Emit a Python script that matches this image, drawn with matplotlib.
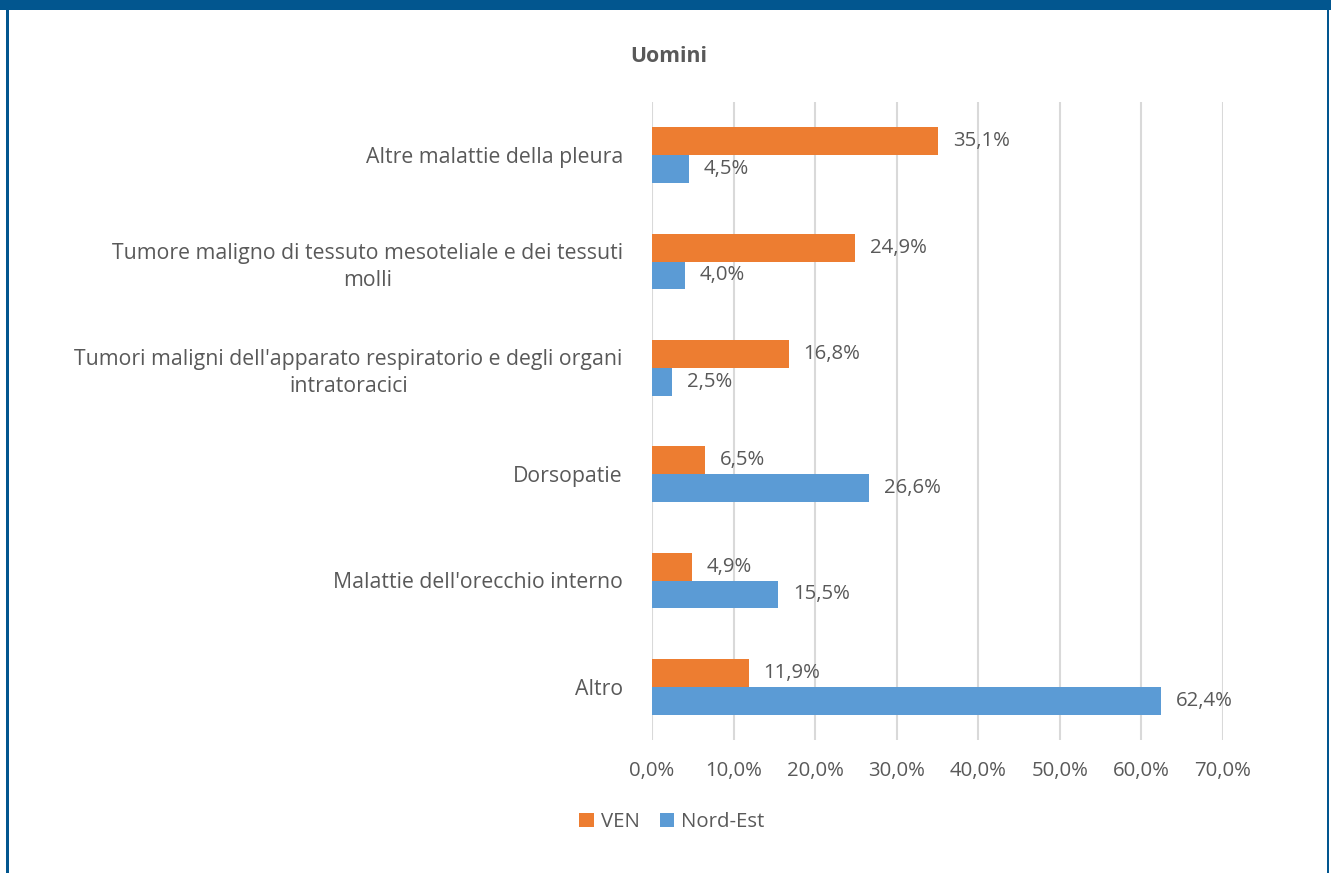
import matplotlib
matplotlib.use("Agg")
import matplotlib.pyplot as plt
from matplotlib.patches import Rectangle
from matplotlib.ticker import FuncFormatter

plt.rcParams['font.family'] = ['Open Sans', 'DejaVu Sans']

categories = [
    "Altre malattie della pleura",
    "Tumore maligno di tessuto mesoteliale e dei tessuti\nmolli",
    "Tumori maligni dell'apparato respiratorio e degli organi\nintratoracici",
    "Dorsopatie",
    "Malattie dell'orecchio interno",
    "Altro",
]
ven = [35.1, 24.9, 16.8, 6.5, 4.9, 11.9]
nord_est = [4.5, 4.0, 2.5, 26.6, 15.5, 62.4]
series_names = ["VEN", "Nord-Est"]
x_ticks = [0, 10, 20, 30, 40, 50, 60, 70]

ORANGE = "#ED7D31"
BLUE = "#5B9BD5"
TEXT = "#595959"
FRAME = "#02568F"
GRID = "#D9D9D9"

FS = 14.7        # ticks, values, legend
FS_CAT = 15.3    # category labels
FS_TITLE = 15.3

W, H = 1331, 873
fig = plt.figure(figsize=(W / 100, H / 100), dpi=100)

# frame: thick band at top, thin lines on the sides
fig.add_artist(Rectangle((0, 1 - 10 / H), 1, 10 / H, transform=fig.transFigure,
                         color=FRAME, lw=0))
fig.add_artist(Rectangle((6 / W, 0), 2.5 / W, 1, transform=fig.transFigure,
                         color=FRAME, lw=0))
fig.add_artist(Rectangle((1326.5 / W, 0), 2.5 / W, 1, transform=fig.transFigure,
                         color=FRAME, lw=0))

ax = fig.add_axes([652 / W, 1 - 740 / H, (1223 - 652) / W, (740 - 102) / H])

h = 0.263
ypos = list(range(len(categories)))
ax.barh([y - h / 2 for y in ypos], ven, height=h, color=ORANGE, label=series_names[0], zorder=3)
ax.barh([y + h / 2 for y in ypos], nord_est, height=h, color=BLUE, label=series_names[1], zorder=3)

fmt = lambda v: f"{v:.1f}%".replace(".", ",")
for y, v in zip(ypos, ven):
    ax.annotate(fmt(v), (v, y - h / 2), xytext=(10.5, 0), textcoords="offset points",
                va="center", ha="left", fontsize=FS, color=TEXT)
for y, v in zip(ypos, nord_est):
    ax.annotate(fmt(v), (v, y + h / 2), xytext=(10.5, 0), textcoords="offset points",
                va="center", ha="left", fontsize=FS, color=TEXT)

ax.set_ylim(len(categories) - 0.5, -0.5)
ax.set_xlim(0, 70)
ax.set_xticks(x_ticks)
ax.xaxis.set_major_formatter(FuncFormatter(lambda v, p: f"{v:.1f}%".replace(".", ",")))
ax.set_yticks(ypos)
ax.set_yticklabels(categories, multialignment="center", fontsize=FS_CAT, linespacing=1.35)
ax.tick_params(axis="both", length=0, labelcolor=TEXT)
ax.tick_params(axis="x", labelsize=FS, pad=15)
ax.tick_params(axis="y", pad=21)
ax.grid(axis="x", color=GRID, lw=1.5, zorder=0)
for s in ax.spines.values():
    s.set_visible(False)

fig.text(669 / W, 1 - 56 / H, "Uomini", ha="center", va="center",
         fontsize=FS_TITLE, fontweight="bold", color=TEXT)

leg = fig.legend(loc="center", bbox_to_anchor=(672 / W, 1 - 822 / H), ncol=2,
                 frameon=False, fontsize=FS, handlelength=0.7, handleheight=0.7,
                 handletextpad=0.35, columnspacing=1.0, borderpad=0)
for t in leg.get_texts():
    t.set_color(TEXT)

fig.savefig("out.png", dpi=100)
